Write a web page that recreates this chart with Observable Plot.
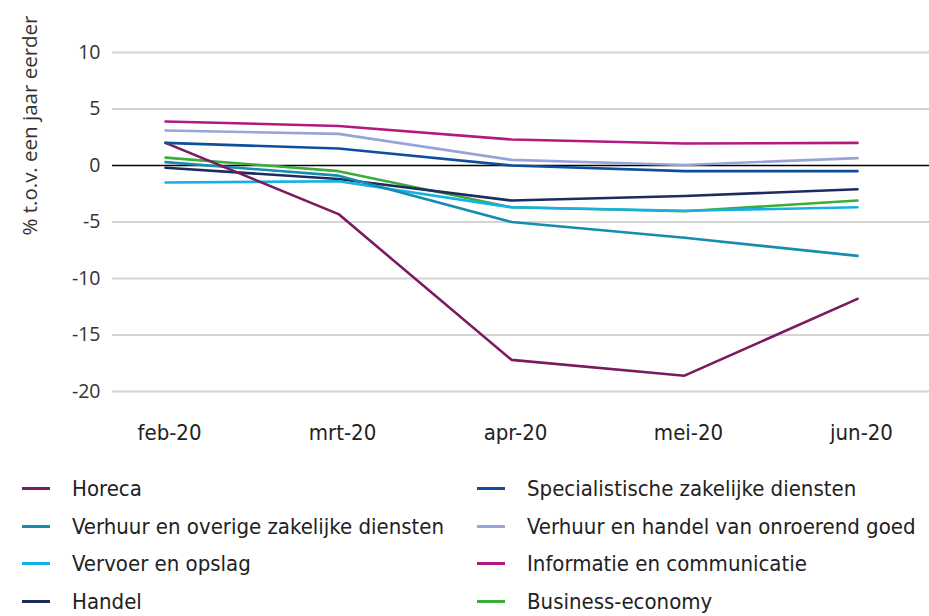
<!DOCTYPE html>
<html>
<head>
<meta charset="utf-8">
<script src="https://cdn.jsdelivr.net/npm/d3@7"></script>
<script src="https://cdn.jsdelivr.net/npm/@observablehq/plot@0.6"></script>
<style>
  body { margin: 0; background: #fff; }
  #wrap { position: relative; width: 929px; height: 616px; overflow: hidden; }
  #legend { position: absolute; left: 0; top: 470px; width: 929px; font-family: "DejaVu Sans Condensed", sans-serif; font-size: 22px; color: #222; }
  .item { position: absolute; height: 37.5px; display: flex; align-items: center; white-space: nowrap; }
  .sw { width: 28px; height: 3px; margin-right: 22px; }
</style>
</head>
<body>
<div id="wrap"><div id="chart"></div><div id="legend"></div></div>
<script>
const months = ["feb-20", "mrt-20", "apr-20", "mei-20", "jun-20"];
const seriesNames = [
  "Horeca",
  "Verhuur en overige zakelijke diensten",
  "Vervoer en opslag",
  "Handel",
  "Specialistische zakelijke diensten",
  "Verhuur en handel van onroerend goed",
  "Informatie en communicatie",
  "Business-economy"
];
const horeca        = [2.0, -4.3, -17.2, -18.6, -11.8];
const verhuurOverig = [0.3, -0.9, -5.0, -6.4, -8.0];
const vervoer       = [-1.5, -1.4, -3.7, -4.0, -3.7];
const handel        = [-0.2, -1.2, -3.1, -2.7, -2.1];
const specialist    = [2.0, 1.5, 0.0, -0.5, -0.5];
const onroerend     = [3.1, 2.8, 0.5, 0.05, 0.65];
const informatie    = [3.9, 3.5, 2.3, 1.95, 2.0];
const business      = [0.7, -0.5, -3.7, -4.05, -3.1];
const yTicks = [-20, -15, -10, -5, 0, 5, 10];
const yLabel = "% t.o.v. een jaar eerder";
const colors = ["#7b1a5f", "#168cae", "#16b0e4", "#1d2b5f", "#0e4f9d", "#98a4d7", "#b3197f", "#3aad3a"];

const allSeries = [horeca, verhuurOverig, vervoer, handel, specialist, onroerend, informatie, business];
const data = [];
allSeries.forEach((vals, si) => vals.forEach((v, i) => data.push({series: seriesNames[si], month: months[i], value: v})));
const drawOrder = [7, 3, 2, 1, 0, 4, 5, 6];

const chart = Plot.plot({
  width: 929,
  height: 460,
  marginLeft: 112,
  marginRight: 0,
  marginTop: 0,
  marginBottom: 69,
  x: {type: "point", domain: months, range: [164, 858], padding: 0},
  y: {domain: [-20, 10], range: [391, 52]},
  style: {background: "#fff"},
  marks: [
    Plot.ruleY(yTicks.filter(d => d !== 0), {stroke: "#d4d4d4", strokeWidth: 2}),
    Plot.ruleY([0], {stroke: "#000", strokeWidth: 1.3}),
    Plot.axisY({ticks: yTicks, tickSize: 0, tickPadding: 12, tickFormat: d => String(d), fontSize: 19.5, fontFamily: "Open Sans", fill: "#333", label: null}),
    Plot.axisX({tickSize: 0, tickPadding: 33, fontSize: 22, fontFamily: "DejaVu Sans Condensed, sans-serif", fill: "#222", label: null, dx: 4}),
    Plot.text([yLabel], {frameAnchor: "top-left", rotate: -90, textAnchor: "end", dx: -90, dy: 15, fontSize: 20.5, fontFamily: "Open Sans", fill: "#333"}),
    ...drawOrder.map(si => Plot.line(data.filter(d => d.series === seriesNames[si]), {x: "month", y: "value", stroke: colors[si], strokeWidth: 2.6}))
  ]
});
document.getElementById("chart").appendChild(chart);

const legend = document.getElementById("legend");
seriesNames.forEach((name, i) => {
  const col = i < 4 ? 0 : 1;
  const row = i % 4;
  const div = document.createElement("div");
  div.className = "item";
  div.style.left = (col === 0 ? 22 : 477) + "px";
  div.style.top = (row * 37.5) + "px";
  const sw = document.createElement("span");
  sw.className = "sw";
  sw.style.background = colors[i];
  div.appendChild(sw);
  div.appendChild(document.createTextNode(name));
  legend.appendChild(div);
});
</script>
</body>
</html>
